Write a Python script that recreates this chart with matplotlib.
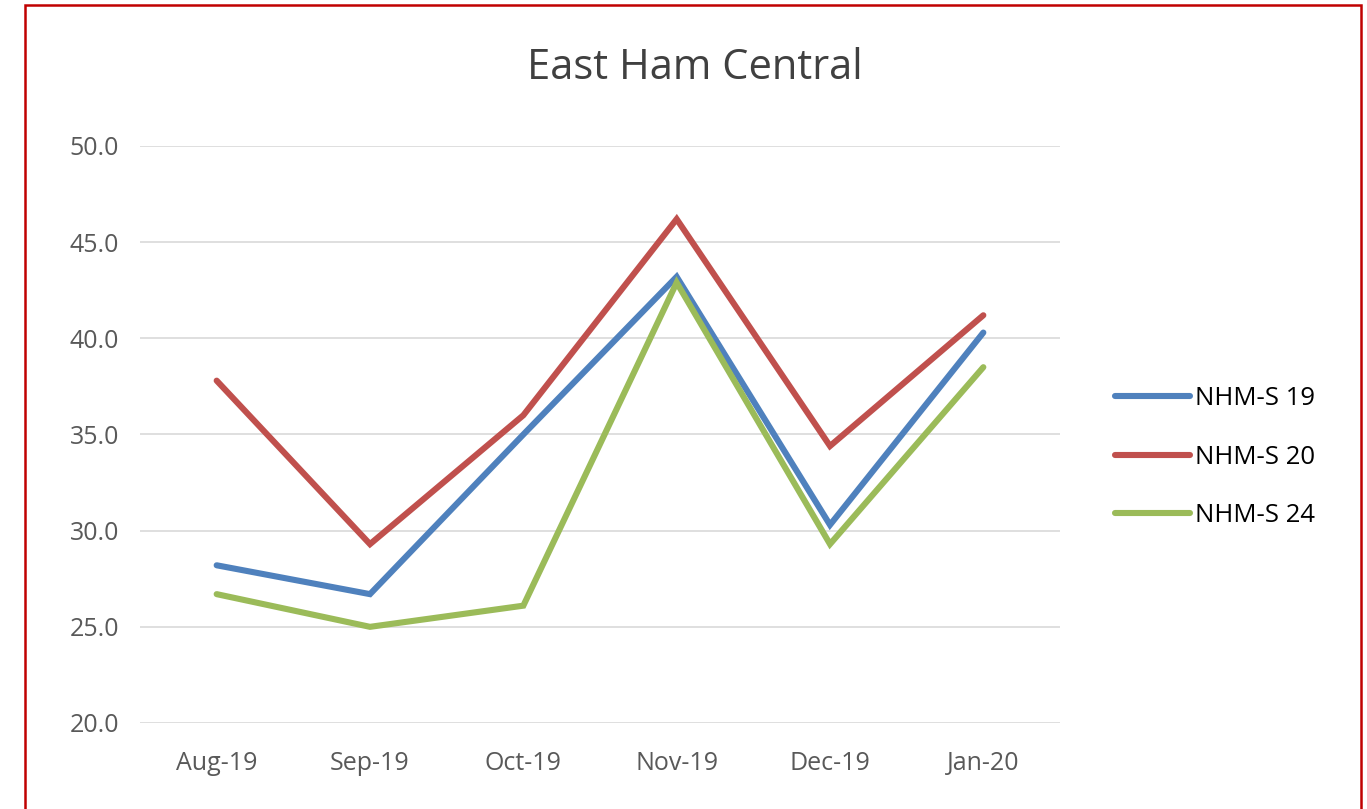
import matplotlib
matplotlib.use("Agg")
import matplotlib.pyplot as plt
from matplotlib.patches import Rectangle
from matplotlib.lines import Line2D

months = ["Aug-19", "Sep-19", "Oct-19", "Nov-19", "Dec-19", "Jan-20"]
nhm_s19 = [28.2, 26.7, 35.0, 43.2, 30.3, 40.3]
nhm_s20 = [37.8, 29.3, 36.0, 46.2, 34.4, 41.2]
nhm_s24 = [26.7, 25.0, 26.1, 42.9, 29.3, 38.5]
series_names = ["NHM-S 19", "NHM-S 20", "NHM-S 24"]
colors = ["#4F81BD", "#C0504D", "#9BBB59"]
yticks = [20, 25, 30, 35, 40, 45, 50]

plt.rcParams['font.family'] = ['Open Sans', 'DejaVu Sans']

W, H = 1367, 809
fig = plt.figure(figsize=(W/100, H/100), dpi=100)
fig.patch.set_facecolor('white')

ax = fig.add_axes([140/W, 1-723/H, 920/W, (723-146)/H])
x = list(range(len(months)))
for vals, name, c in zip([nhm_s19, nhm_s20, nhm_s24], series_names, colors):
    ax.plot(x, vals, color=c, lw=4.4, label=name, solid_joinstyle='miter', solid_capstyle='round')

ax.set_xlim(-0.5, len(months)-0.5)
ax.set_ylim(20, 50)
ax.set_yticks(yticks)
ax.set_yticklabels([f"{v:.1f}" for v in yticks], fontsize=18, color='#595959')
ax.set_xticks(x)
ax.set_xticklabels(months, fontsize=18, color='#595959')
ax.tick_params(axis='both', length=0)
ax.tick_params(axis='y', pad=15)
ax.tick_params(axis='x', pad=20)
ax.grid(axis='y', color='#D9D9D9', lw=1.2)
ax.set_axisbelow(True)
for s in ax.spines.values():
    s.set_visible(False)

fig.text(695/W, 1-68/H, "East Ham Central", ha='center', va='center', fontsize=30, color='#404040')

handles = [Line2D([0], [0], color=c, lw=4.4, solid_capstyle='round') for c in colors]
leg = fig.legend(handles, series_names, loc='center left', bbox_to_anchor=(1092/W, 1-457/H),
                 frameon=False, fontsize=18.5, handlelength=2.9, handletextpad=0.2,
                 labelspacing=1.32, labelcolor='#000000')

fig.patches.append(Rectangle((25/W, -0.05), (1361-25)/W, 1.05 - 5/H, transform=fig.transFigure,
                             fill=False, edgecolor='#C00000', lw=1.8))

fig.savefig("out.png", dpi=100)
